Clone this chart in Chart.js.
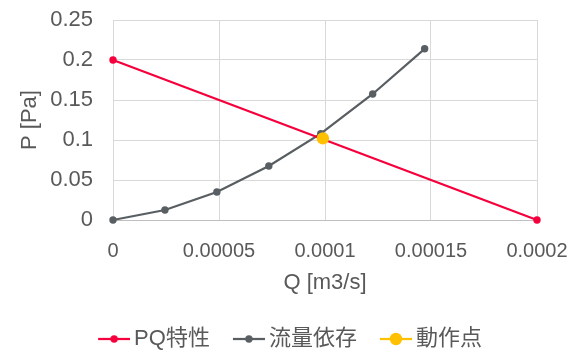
<!DOCTYPE html>
<html>
<head>
<meta charset="utf-8">
<script src="https://cdn.jsdelivr.net/npm/chart.js@4.4.1/dist/chart.umd.min.js"></script>
<style>
  body { margin: 0; background: #fff; }
  canvas { display: block; }
</style>
</head>
<body>
<canvas id="myCanvas" width="584" height="351"></canvas>
<script>
// values
const seriesNames = ["PQ特性", "流量依存", "動作点"];
const pqQ = [0, 0.0002];
const pqP = [0.2, 0];
const flowQ = [0, 0.0000245, 0.000049, 0.0000735, 0.000098, 0.0001225, 0.000147];
const flowP = [0, 0.0125, 0.035, 0.0675, 0.108, 0.1575, 0.214];
const opQ = [0.000099];
const opP = [0.102];
const xTicks = [0, 0.00005, 0.0001, 0.00015, 0.0002];
const yTicks = [0, 0.05, 0.1, 0.15, 0.2, 0.25];

const colors = ["#F5003C", "#585E61", "#FFC000"];
const radii = [3.7, 3.7, 6.2];
const textColor = "#595959";
const fontFamily = "'Liberation Sans', 'Noto Sans CJK JP', sans-serif";

function toPoints(xs, ys) {
    let pts = [];
    xs.forEach((x, i) => {
        pts.push({x: x, y: ys[i]});
    });
    return pts;
}

// legend icon: short line with a dot, padded on the left so it sits close to the text
const iconPad = 20;
function makeIcon(color, r) {
    const c = document.createElement("canvas");
    c.width = 32 + iconPad;
    c.height = 16;
    const ctx = c.getContext("2d");
    ctx.strokeStyle = color;
    ctx.lineWidth = 2.25;
    ctx.beginPath();
    ctx.moveTo(iconPad, 8);
    ctx.lineTo(iconPad + 32, 8);
    ctx.stroke();
    ctx.fillStyle = color;
    ctx.beginPath();
    ctx.arc(iconPad + 16, 8, r, 0, Math.PI * 2);
    ctx.fill();
    return c;
}
const icons = colors.map((c, i) => makeIcon(c, radii[i]));

const fmt = v => String(parseFloat(Number(v).toFixed(6)));

// nudge the legend row to the right a little
const legendShift = {
    id: "legendShift",
    afterLayout(chart) {
        if (chart.legend) chart.legend.left += 30;
    }
};

const myCanvas = document.getElementById("myCanvas");

const gChart = new Chart(myCanvas, {
    type: "scatter",
    data: {
        datasets: [
            { label: seriesNames[0], data: toPoints(pqQ, pqP), order: 1 },
            { label: seriesNames[1], data: toPoints(flowQ, flowP), order: 2 },
            { label: seriesNames[2], data: toPoints(opQ, opP), order: 0 }
        ].map((ds, i) => Object.assign(ds, {
            showLine: true,
            borderColor: colors[i],
            backgroundColor: colors[i],
            borderWidth: 2.25,
            pointRadius: radii[i],
            pointBorderWidth: 0,
            pointBackgroundColor: colors[i],
            clip: false
        }))
    },
    options: {
        responsive: false,
        animation: false,
        events: [],
        layout: {
            padding: { left: 0, right: 47, top: 20, bottom: 0 }
        },
        scales: {
            x: {
                type: "linear",
                min: 0,
                max: 0.0002,
                afterBuildTicks: s => { s.ticks = xTicks.map(v => ({value: v})); },
                afterFit: s => { s.height = 98; },
                ticks: {
                    callback: fmt,
                    color: textColor,
                    font: { family: fontFamily, size: 20 },
                    padding: 0,
                    maxRotation: 0
                },
                grid: { color: "#D9D9D9", tickLength: 19, tickColor: "rgba(0,0,0,0)" },
                border: { color: "#BFBFBF" },
                title: {
                    display: true,
                    text: "Q [m3/s]",
                    color: textColor,
                    font: { family: fontFamily, size: 22 },
                    padding: { top: 0, bottom: 22 }
                }
            },
            y: {
                type: "linear",
                min: 0,
                max: 0.25,
                afterBuildTicks: s => { s.ticks = yTicks.map(v => ({value: v})); },
                afterFit: s => { s.width = 113; },
                ticks: {
                    callback: fmt,
                    color: textColor,
                    font: { family: fontFamily, size: 22 },
                    padding: 0
                },
                grid: { color: "#D9D9D9", tickLength: 20, tickColor: "rgba(0,0,0,0)" },
                border: { color: "#D9D9D9" },
                title: {
                    display: true,
                    text: "P [Pa]",
                    color: textColor,
                    font: { family: fontFamily, size: 22 },
                    padding: { top: 17, bottom: 0 }
                }
            }
        },
        plugins: {
            tooltip: { enabled: false },
            legend: {
                display: true,
                position: "bottom",
                maxHeight: 33,
                labels: {
                    usePointStyle: true,
                    pointStyleWidth: 18 + iconPad,
                    padding: 10,
                    color: textColor,
                    font: { family: fontFamily, size: 22 },
                    generateLabels: chart => chart.data.datasets.map((ds, i) => ({
                        text: ds.label,
                        fillStyle: colors[i],
                        strokeStyle: colors[i],
                        lineWidth: 0,
                        pointStyle: icons[i],
                        fontColor: textColor,
                        hidden: false,
                        datasetIndex: i
                    }))
                }
            }
        }
    },
    plugins: [legendShift]
});
</script>
</body>
</html>
